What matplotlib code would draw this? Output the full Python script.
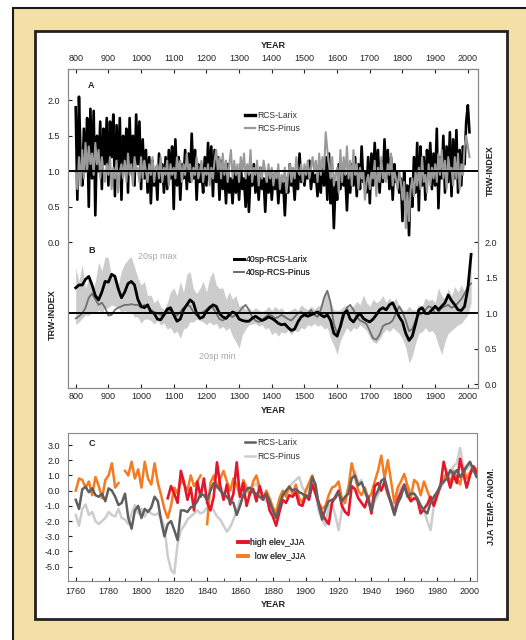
import numpy as np
import matplotlib
matplotlib.use('Agg')
import matplotlib.pyplot as plt
from matplotlib.patches import Rectangle
from matplotlib.ticker import FormatStrFormatter, MultipleLocator

plt.rcParams['font.family'] = ['Liberation Sans', 'DejaVu Sans']
plt.rcParams['axes.unicode_minus'] = False

# ---- panel A: annual ring width (sampled every 5 yr), 800-2005
years_a = np.arange(800, 2006, 5)
larix_a = [
    1.90, 0.60, 2.05, 1.20, 0.80, 1.60, 1.00, 1.75, 0.50, 1.88,
    0.90, 1.85, 0.38, 1.50, 1.00, 1.70, 0.75, 1.60, 1.10, 1.75,
    0.80, 1.70, 1.20, 1.80, 0.65, 1.65, 1.00, 1.75, 0.60, 1.50,
    1.10, 1.60, 0.70, 1.75, 1.00, 1.50, 0.80, 1.80, 1.10, 1.70,
    0.75, 1.45, 0.90, 1.30, 0.70, 1.20, 0.55, 1.15, 0.80, 1.00,
    0.60, 1.25, 0.85, 1.10, 0.70, 1.20, 0.75, 1.30, 0.90, 1.35,
    0.47, 1.45, 0.80, 1.20, 0.60, 1.10, 0.90, 1.30, 0.75, 1.25,
    0.85, 1.53, 0.90, 1.30, 0.60, 1.10, 0.85, 1.00, 0.70, 1.20,
    0.80, 1.40, 0.90, 1.35, 0.65, 1.30, 0.85, 1.20, 0.60, 1.15,
    0.75, 1.00, 0.55, 1.10, 0.70, 0.90, 0.55, 1.00, 0.70, 0.95,
    0.60, 1.10, 0.75, 0.90, 0.50, 1.05, 0.43, 0.95, 0.80, 1.10,
    0.70, 1.00, 0.60, 1.05, 0.75, 0.90, 0.43, 0.95, 0.70, 1.00,
    0.60, 0.95, 0.75, 1.00, 0.55, 0.90, 0.70, 0.85, 0.38, 0.90,
    0.70, 1.10, 0.80, 0.95, 0.60, 1.00, 0.75, 1.25, 0.85, 1.00,
    0.80, 1.05, 0.90, 1.15, 0.75, 1.00, 0.85, 0.95, 0.65, 1.00,
    0.70, 1.15, 0.80, 1.20, 0.60, 1.25, 0.55, 0.90, 0.20, 0.85,
    0.60, 1.10, 0.75, 1.05, 0.80, 0.95, 0.45, 1.00, 0.70, 1.10,
    0.80, 1.20, 0.65, 1.10, 0.75, 1.35, 0.85, 1.00, 0.70, 1.20,
    0.55, 1.25, 0.80, 1.40, 0.90, 1.30, 0.70, 1.15, 0.85, 1.45,
    0.90, 1.30, 0.75, 1.20, 0.60, 1.10, 0.85, 1.00, 0.70, 0.90,
    0.30, 1.00, 0.60, 0.80, 0.10, 0.90, 0.50, 1.20, 0.70, 1.40,
    0.45, 1.35, 0.80, 1.20, 0.60, 1.30, 0.90, 1.40, 0.75, 1.25,
    0.80, 1.60, 0.48, 1.20, 0.90, 1.50, 0.70, 1.35, 0.85, 1.55,
    0.65, 1.45, 0.90, 1.58, 0.70, 1.30, 0.80, 1.35, 1.10, 1.70,
    1.93, 1.55,
]
pinus_a = [
    1.00, 0.75, 1.20, 0.80, 1.30, 0.90, 1.40, 1.00, 1.35, 1.10,
    1.25, 0.95, 1.40, 1.10, 1.30, 0.90, 1.20, 1.00, 0.85, 1.10,
    0.95, 1.20, 0.75, 1.05, 0.90, 1.15, 0.70, 1.00, 1.10, 0.90,
    1.15, 0.85, 1.25, 0.95, 1.10, 0.80, 1.20, 1.00, 1.05, 0.85,
    1.20, 0.90, 1.15, 1.00, 0.85, 1.10, 0.95, 1.20, 0.85, 1.05,
    1.10, 0.90, 1.20, 0.85, 1.05, 0.95, 1.15, 0.80, 1.10, 0.95,
    1.05, 0.90, 1.20, 1.00, 1.15, 0.85, 1.10, 0.95, 1.25, 1.00,
    1.10, 0.85, 1.05, 0.95, 1.20, 0.90, 1.00, 1.15, 0.85, 1.05,
    0.95, 1.10, 0.80, 1.05, 0.90, 1.15, 1.30, 1.00, 1.20, 0.90,
    1.25, 0.95, 1.15, 0.85, 1.10, 1.30, 0.90, 1.15, 0.95, 1.10,
    0.85, 1.20, 1.00, 1.25, 0.90, 1.10, 0.95, 1.30, 0.85, 1.05,
    0.95, 1.15, 0.80, 1.05, 0.90, 1.15, 1.00, 0.85, 1.10, 0.90,
    1.05, 0.80, 1.00, 0.90, 1.10, 0.75, 0.95, 0.85, 1.05, 0.70,
    0.95, 1.10, 0.85, 1.05, 0.90, 1.20, 1.00, 0.95, 1.10, 0.85,
    1.10, 0.95, 1.15, 0.90, 1.05, 1.20, 1.00, 1.15, 0.85, 1.25,
    0.95, 1.20, 1.00, 1.55, 1.30, 1.10, 0.90, 1.20, 0.80, 0.95,
    1.05, 0.70, 1.30, 0.85, 1.20, 0.95, 1.35, 0.90, 1.15, 0.80,
    1.30, 0.95, 1.10, 0.75, 1.05, 0.90, 1.00, 0.60, 0.85, 0.95,
    0.75, 1.00, 0.90, 1.15, 0.65, 1.05, 0.85, 1.20, 0.90, 1.00,
    0.85, 1.10, 0.95, 1.25, 0.80, 1.00, 0.90, 0.75, 1.00, 0.85,
    0.60, 0.85, 0.20, 0.70, 0.30, 0.75, 0.90, 0.65, 1.00, 0.80,
    1.05, 0.75, 1.20, 0.85, 0.95, 0.70, 1.10, 0.80, 1.05, 0.90,
    1.10, 0.85, 1.25, 0.95, 1.30, 0.90, 1.15, 0.75, 1.20, 1.00,
    1.05, 0.80, 1.20, 0.90, 1.25, 0.75, 1.10, 0.95, 1.35, 1.50,
    1.35, 1.20,
]

# ---- panel B: 40-yr splines and 20-yr spline envelope, every 10 yr, 800-2010
years_b = np.arange(800, 2011, 10)
larix_b = [
    1.36, 1.40, 1.40, 1.48, 1.52, 1.40, 1.25, 1.19, 1.30, 1.45,
    1.44, 1.55, 1.52, 1.35, 1.22, 1.30, 1.42, 1.45, 1.40, 1.20,
    1.10, 1.08, 1.12, 1.02, 1.00, 0.92, 0.91, 0.98, 1.06, 1.08,
    0.98, 0.89, 0.92, 1.05, 1.12, 1.19, 1.15, 1.00, 0.93, 0.95,
    1.03, 1.08, 1.12, 1.10, 1.00, 0.95, 0.93, 0.98, 1.02, 1.00,
    0.92, 0.90, 0.89, 0.89, 0.93, 0.96, 0.93, 0.90, 0.92, 0.95,
    0.93, 0.90, 0.86, 0.84, 0.85, 0.80, 0.76, 0.78, 0.88, 0.95,
    0.98, 0.96, 0.98, 1.00, 1.02, 0.98, 0.95, 0.98, 0.90, 0.72,
    0.68, 0.82, 1.00, 1.04, 0.92, 0.88, 0.95, 1.00, 0.93, 0.90,
    0.88, 0.92, 0.98, 1.05, 1.08, 1.05, 1.12, 1.15, 1.05, 0.95,
    0.88, 0.72, 0.62, 0.68, 0.85, 1.05, 1.08, 1.00, 1.00, 1.05,
    1.10, 1.05, 1.10, 1.15, 1.26, 1.18, 1.12, 1.05, 1.04, 1.10,
    1.35, 1.83,
]
pinus_b = [
    0.93, 0.96, 1.00, 1.08, 1.22, 1.28, 1.20, 1.12, 1.15, 1.08,
    0.97, 0.98, 1.05, 1.08, 1.10, 1.12, 1.12, 1.13, 1.12, 1.12,
    1.08, 1.12, 1.10, 1.05, 1.02, 1.00, 0.98, 0.97, 1.02, 1.05,
    1.00, 0.97, 1.02, 1.08, 1.12, 1.10, 1.02, 0.97, 1.00, 1.02,
    1.05, 1.10, 1.08, 1.00, 0.92, 0.90, 0.93, 0.97, 0.95, 0.98,
    1.02, 1.08, 1.12, 1.05, 0.95, 0.90, 0.88, 0.90, 0.95, 0.98,
    0.97, 0.93, 0.95, 0.98, 0.95, 0.92, 0.90, 0.95, 1.00, 1.02,
    0.98, 1.00, 1.05, 0.98, 0.95, 1.05, 1.22, 1.32, 1.15, 0.85,
    0.72, 0.80, 0.95, 1.08, 1.12, 1.05, 0.95, 0.90, 0.88, 0.85,
    0.75, 0.65, 0.63, 0.70, 0.82, 0.85, 0.86, 0.90, 1.00, 1.10,
    1.02, 0.90, 0.75, 0.78, 0.90, 0.98, 1.00, 1.05, 1.10, 1.08,
    1.00, 1.02, 1.08, 1.10, 1.12, 1.08, 1.10, 1.15, 1.20, 1.28,
    1.38, 1.42,
]
band_max = [
    1.64, 1.45, 1.69, 1.35, 1.50, 1.30, 1.45, 1.72, 1.60, 1.80,
    1.78, 1.50, 1.58, 1.40, 1.60, 1.70, 1.76, 1.80, 1.65, 1.50,
    1.40, 1.45, 1.25, 1.26, 1.15, 1.20, 1.10, 1.05, 1.15, 1.30,
    1.36, 1.25, 1.45, 1.30, 1.55, 1.59, 1.35, 1.28, 1.35, 1.45,
    1.30, 1.50, 1.59, 1.40, 1.35, 1.36, 1.20, 1.30, 1.20, 1.25,
    1.10, 1.12, 1.05, 1.08, 1.04, 1.08, 1.05, 1.03, 1.05, 1.10,
    1.04, 1.10, 1.05, 1.08, 1.02, 1.03, 1.05, 1.08, 1.04, 1.12,
    1.08, 1.05, 1.10, 1.06, 1.10, 1.12, 1.28, 1.32, 1.15, 1.05,
    1.04, 1.05, 1.10, 1.12, 1.08, 1.10, 1.17, 1.12, 1.26, 1.15,
    1.10, 1.20, 1.15, 1.18, 1.25, 1.15, 1.22, 1.15, 1.22, 1.10,
    1.05, 1.04, 1.10, 1.05, 1.05, 1.12, 1.10, 1.22, 1.18, 1.20,
    1.15, 1.36, 1.25, 1.20, 1.35, 1.25, 1.38, 1.30, 1.40, 1.30,
    1.45, 1.95,
]
band_min = [
    0.84, 0.88, 0.93, 0.98, 0.97, 1.02, 1.00, 1.05, 1.00, 1.08,
    1.08, 1.12, 1.10, 1.08, 1.00, 1.04, 1.00, 1.02, 0.95, 0.95,
    0.86, 0.92, 0.92, 0.90, 0.85, 0.90, 0.84, 0.86, 0.78, 0.80,
    0.72, 0.75, 0.65, 0.78, 0.80, 0.88, 0.88, 0.92, 0.90, 0.88,
    0.84, 0.88, 0.84, 0.86, 0.78, 0.82, 0.76, 0.80, 0.68, 0.60,
    0.51, 0.70, 0.78, 0.84, 0.85, 0.86, 0.82, 0.84, 0.78, 0.80,
    0.70, 0.74, 0.68, 0.74, 0.72, 0.76, 0.70, 0.76, 0.74, 0.80,
    0.78, 0.84, 0.82, 0.86, 0.82, 0.84, 0.78, 0.80, 0.65, 0.55,
    0.42, 0.62, 0.72, 0.80, 0.74, 0.80, 0.78, 0.84, 0.80, 0.76,
    0.66, 0.60, 0.58, 0.64, 0.72, 0.78, 0.74, 0.80, 0.76, 0.72,
    0.64, 0.52, 0.30, 0.40, 0.58, 0.72, 0.74, 0.80, 0.74, 0.76,
    0.70, 0.55, 0.42, 0.60, 0.72, 0.76, 0.80, 0.84, 0.86, 0.92,
    0.98, 1.15,
]

# ---- panel C: JJA temperature anomalies and reconstructions, every 2 yr
years_c = np.arange(1760, 2005, 2)
larix_c = [
    -0.60, -1.20, 0.10, 0.25, -0.10, 0.15, -0.30, -0.40, -0.20, -0.70,
    0.15, 0.00, -0.40, -0.95, -0.80, -0.20, -1.80, -2.50, -1.30, -1.00,
    -1.80, -1.20, -1.40, -1.10, -0.40, -0.70, -2.00, -3.00, -2.20, -2.00,
    -2.60, -3.25, -1.30, -1.30, -1.40, -1.10, -1.00, -0.70, -0.20, -0.30,
    -0.60, 0.00, 0.50, 0.30, 0.00, -0.20, -0.40, -0.70, -0.80, -1.60,
    -1.00, -0.30, 0.10, 0.20, -0.10, -0.20, -0.40, -0.60, -0.20, -0.70,
    -1.30, -1.80, -1.00, -0.30, 0.00, 0.25, 0.00, 0.10, -0.10, -0.20,
    -0.40, -0.30, 0.90, 0.40, -1.00, -1.90, -1.20, -0.70, -0.60, -0.50,
    -0.10, -0.70, -0.40, -0.20, 0.80, 1.00, 0.35, 0.55, 0.00, -0.60,
    -1.30, -0.40, 0.00, 0.65, 0.80, 0.00, -0.85, -1.60, -0.85, -0.40,
    0.35, -0.40, -0.20, -0.20, -0.50, -1.00, -1.30, -1.50, -0.80, -0.40,
    -0.10, 0.35, 0.60, 0.80, 1.35, 1.05, 1.35, 0.90, 1.20, 1.60,
    1.90, 1.40, 0.90,
]
pinus_c = [
    -1.60, -2.30, -1.20, -0.90, -1.60, -1.40, -2.00, -2.20, -2.00, -1.80,
    -1.40, -1.60, -1.70, -1.20, -1.80, -1.90, -2.20, -1.50, -0.95, -1.50,
    -1.20, -1.70, -1.30, -1.50, -1.60, -1.50, -1.80, -2.40, -4.30, -5.20,
    -5.45, -3.50, -2.60, -2.30, -1.90, -1.70, -1.50, -1.30, -1.50, -1.40,
    -1.10, -1.00, -1.30, -1.70, -1.90, -2.30, -2.70, -2.40, -1.90, -1.30,
    -0.60, -0.20, -0.10, 0.10, 0.30, 0.50, 0.00, -0.40, -0.70, -0.90,
    -1.40, -1.20, -0.60, -0.40, -0.10, 0.25, 0.50, 0.70, 0.90, 0.20,
    -0.10, 0.30, 0.70, -0.20, -1.40, -1.90, -2.30, -1.00, -0.90, -1.60,
    -2.60, -1.30, -0.50, 0.25, 0.90, 1.25, 0.50, 0.70, -0.20, -0.60,
    -1.40, -0.70, -0.30, 0.20, 0.30, -0.30, -0.70, -1.20, -0.10, 0.20,
    0.40, 0.30, 0.00, -0.20, -0.60, -0.90, -1.30, -2.00, -2.60, -1.00,
    -0.50, 0.25, 0.50, 0.90, 1.20, 1.60, 1.80, 2.80, 1.60, 1.40,
    1.70, 1.30, 1.10,
]
years_high = np.arange(1816, 2005, 2)
high_elev = [
    -0.50, 0.30, -0.20, -0.80, 1.30, 0.50, -0.60, 0.20, -1.30, 0.60,
    -0.40, 0.80, -0.80, -1.30, -0.40, 1.86, 0.30, -0.60, 0.40, -0.90,
    -0.20, 1.86, -0.40, 0.50, -1.00, -0.20, 0.10, -0.70, 0.30, -0.50,
    -0.20, -1.30, -1.70, -2.30, -1.40, -0.60, -0.80, -0.30, -0.40, -0.10,
    -0.90, -1.00, -0.30, -0.60, 0.40, -0.20, -0.90, -1.50, -1.90, -2.20,
    -0.80, -0.40, 0.00, -1.00, -1.40, -1.60, 0.30, 0.10, -0.50, -0.80,
    -1.10, -0.40, -1.50, 0.30, 0.50, 0.00, 0.60, -0.20, -0.80, -1.50,
    -0.60, -0.10, 0.40, -0.30, -0.70, -0.50, -0.60, -1.50, -1.20, -0.90,
    -0.40, -1.00, -0.30, 0.30, 1.90, 1.00, 0.20, 1.00, 0.50, 2.10,
    1.10, 0.20, 1.00, 1.60, 1.20,
]
low_elev = [
    0.00, 0.80, 0.70, 0.20, 0.60, -0.30, 0.90, 0.30, -0.50, 0.70,
    1.00, 1.80, 0.20, 0.50, np.nan, 1.30, 1.00, 1.90, 0.80, 1.40,
    0.20, 1.90, 0.80, 0.40, 1.80, 0.50, -0.30, -1.20, -1.80, -1.00,
    0.20, -0.20, 0.70, 0.40, 0.00, 1.00, 0.30, 0.60, 1.00, np.nan,
    -2.20, 0.50, 1.00, 0.20, 0.80, 1.30, 0.60, 0.00, 0.80, 0.40,
    -0.40, 0.70, 0.20, -0.30, 0.60, 1.00, 0.20, -0.60, 0.00, -0.50,
    -1.10, -1.50, -0.50, 0.00, -0.40, 0.30, -0.20, 0.40, -0.50, -0.80,
    0.00, 0.50, 1.00, 0.00, -0.80, -1.20, -1.00, -0.30, 0.20, 0.30,
    0.60, -0.50, -0.80, 0.20, 1.80, 0.90, 0.00, -0.30, 0.20, -0.50,
    -0.20, 0.60, 1.30, 2.30, 0.80, 2.00, 0.60, -0.80, 0.20, 0.60,
    1.10, 0.30, -0.50, 0.70, 0.50, -0.30, 0.60, 0.00, -0.60, -0.90,
    -0.10, 0.30, 0.80, 1.20, 0.50, 1.30, 0.80, 0.40, 1.50, 0.80,
    1.20, 1.60, 1.40,
]

A_SHIFT = 2.0  # panel A is stacked on top of panel B in one frame
TAN = '#f4dfa6'
W, H = 526, 640

fig = plt.figure(figsize=(W / 100, H / 100), dpi=100)
fig.patches.append(Rectangle((13 / W, -0.02), 1.0, 632 / H + 0.02, transform=fig.transFigure,
                             facecolor=TAN, edgecolor='#1a1a1a', lw=1.5, zorder=-10))
fig.patches.append(Rectangle((35 / W, 21 / H), 472 / W, 588 / H, transform=fig.transFigure,
                             facecolor='white', edgecolor='#222222', lw=2, zorder=-9))

# ---------------- panels A + B
ax = fig.add_axes([67.7 / W, 1 - 388 / H, 410.6 / W, 319 / H])
ax.fill_between(years_b, band_min, band_max, color='#cccccc', lw=0, zorder=1)
la, = ax.plot(years_a, np.array(larix_a) + A_SHIFT, color='black', lw=1.9, zorder=2)
pa, = ax.plot(years_a, np.array(pinus_a) + A_SHIFT, color='#9a9a9a', lw=1.5, zorder=3)
ax.axhline(1 + A_SHIFT, color='black', lw=1.4, zorder=4)
pb, = ax.plot(years_b, pinus_b, color='#707070', lw=1.3, zorder=3)
lb, = ax.plot(years_b, larix_b, color='black', lw=2.0, zorder=4)
ax.axhline(1.0, color='black', lw=1.4, zorder=5)

ax.set_xlim(775.5, 2032)
ax.set_ylim(-0.05, 4.44)
ticks_x = list(range(800, 2001, 100))
ax.set_xticks(ticks_x)
ax.tick_params(axis='x', direction='in', length=3, labelsize=6.5, pad=3, colors='#222222')
ax.set_yticks([2.0, 2.5, 3.0, 3.5, 4.0])
ax.set_yticklabels(['0.0', '0.5', '1.0', '1.5', '2.0'])
ax.tick_params(axis='y', direction='in', length=3, labelsize=6.5, pad=5.5, colors='#222222')
for s in ax.spines.values():
    s.set_color('#8a8a8a')
    s.set_linewidth(0.8)

top = ax.secondary_xaxis('top')
top.set_xticks(ticks_x)
top.tick_params(direction='in', length=3, labelsize=6.5, pad=4.5, colors='#222222')
top.spines['top'].set_color('#8a8a8a')

ax2 = ax.twinx()
ax2.set_ylim(ax.get_ylim())
ax2.set_yticks([0.0, 0.5, 1.0, 1.5, 2.0])
ax2.set_yticklabels(['0.0', '0.5', '1.0', '1.5', '2.0'])
ax2.tick_params(axis='y', direction='in', length=3, labelsize=6.5, pad=4.8, colors='#222222')
for s in ax2.spines.values():
    s.set_color('#8a8a8a')
    s.set_linewidth(0.8)

txt = dict(fontsize=6.5, fontweight='bold', color='#222222')
ax.text(0.5, 1.073, 'YEAR', transform=ax.transAxes, ha='center', va='center', **txt)
ax.text(0.5, -0.069, 'YEAR', transform=ax.transAxes, ha='center', va='center', **txt)
ax.text(1.0285, 0.680, 'TRW-INDEX', transform=ax.transAxes, ha='center', va='center', rotation=90, **txt)
ax.text(-0.0365, 0.229, 'TRW-INDEX', transform=ax.transAxes, ha='center', va='center', rotation=90, **txt)
ax.text(0.058, 0.947, 'A', transform=ax.transAxes, ha='center', va='center', **txt)
ax.text(0.058, 0.430, 'B', transform=ax.transAxes, ha='center', va='center', **txt)
ax.text(1050, 1.80, '20sp max', ha='center', va='center', fontsize=6.5, color='#a8a8a8', zorder=6)
ax.text(1232, 0.40, '20sp min', ha='center', va='center', fontsize=6.5, color='#a8a8a8', zorder=6)

leg_kw = dict(loc='upper left', frameon=False, handlelength=1.2,
              handletextpad=0.2, borderpad=0, borderaxespad=0, labelspacing=0.5,
              prop={'size': 6.2, 'weight': 'normal'}, labelcolor='#333333')
leg_a = ax.legend([la, pa], ['RCS-Larix', 'RCS-Pinus'], bbox_to_anchor=(0.432, 0.868), **leg_kw)
leg_a.get_lines()[0].set_linewidth(2.4)
leg_a.get_lines()[1].set_linewidth(1.6)
ax.add_artist(leg_a)
leg_b = ax.legend([lb, pb], ['40sp-RCS-Larix', '40sp-RCS-Pinus'], bbox_to_anchor=(0.405, 0.417), **leg_kw)
ax.add_artist(leg_b)

# ---------------- panel C
axc = fig.add_axes([67.7 / W, 1 - 580.7 / H, 409 / W, 147.4 / H])
pc, = axc.plot(years_c, pinus_c, color='#cdcdcd', lw=1.8, zorder=1)
oc, = axc.plot(years_c, low_elev, color='#f47b20', lw=1.8, zorder=2)
hc, = axc.plot(years_high, high_elev, color='#e3162b', lw=1.9, zorder=3)
lc, = axc.plot(years_c, larix_c, color='#5f5f5f', lw=1.8, zorder=4)

axc.set_xlim(1755.1, 2004.1)
axc.set_ylim(-5.92, 3.77)
axc.set_xticks(range(1760, 2001, 20))
axc.xaxis.set_minor_locator(MultipleLocator(10))
axc.set_yticks(range(-5, 4))
axc.yaxis.set_major_formatter(FormatStrFormatter('%.1f'))
axc.tick_params(axis='x', which='both', direction='in', labelsize=6.5, pad=4.5, colors='#222222')
axc.tick_params(axis='x', which='major', length=3)
axc.tick_params(axis='x', which='minor', length=2)
axc.tick_params(axis='y', direction='in', length=3, labelsize=6.5, pad=5.5, colors='#222222')
for s in axc.spines.values():
    s.set_color('#8a8a8a')
    s.set_linewidth(0.8)

axc.text(0.502, -0.160, 'YEAR', transform=axc.transAxes, ha='center', va='center', **txt)
axc.text(1.037, 0.502, 'JJA TEMP. ANOM.', transform=axc.transAxes, ha='center', va='center', rotation=90, **txt)
axc.text(0.059, 0.932, 'C', transform=axc.transAxes, ha='center', va='center', **txt)

leg_c1 = axc.legend([lc, pc], ['RCS-Larix', 'RCS-Pinus'], bbox_to_anchor=(0.433, 0.966), **leg_kw)
axc.add_artist(leg_c1)
leg_c2 = axc.legend([hc, oc], ['high elev_JJA', '  low elev_JJA'], bbox_to_anchor=(0.416, 0.288), **leg_kw)
for h in leg_c2.get_lines():
    h.set_linewidth(2.6)
axc.add_artist(leg_c2)

fig.savefig('out.png', dpi=100)
